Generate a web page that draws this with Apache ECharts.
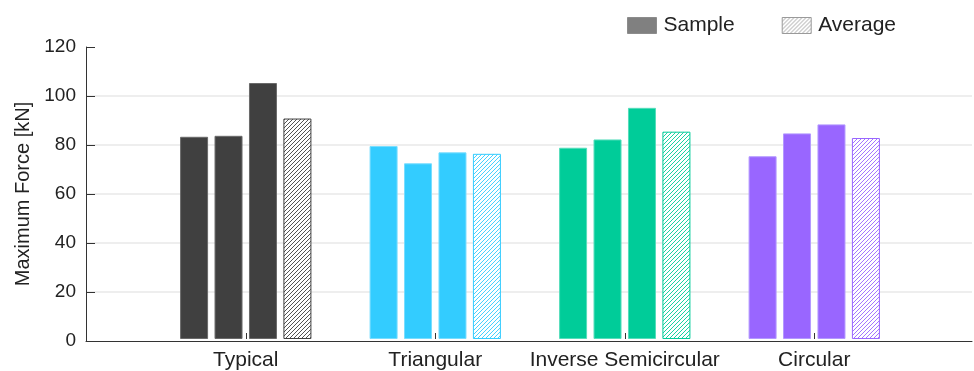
<!DOCTYPE html>
<html>
<head>
<meta charset="utf-8">
<script src="https://cdn.jsdelivr.net/npm/echarts@6/dist/echarts.min.js"></script>
<style>
  html, body { margin: 0; padding: 0; background: #fff; }
  #chart { width: 974px; height: 371px; }
</style>
</head>
<body>
<div id="chart"></div>
<script>
// data
const categories = ['Typical', 'Triangular', 'Inverse Semicircular', 'Circular']
const sample1 = [83.1, 79.3, 78.6, 75.1]
const sample2 = [83.5, 72.2, 82.0, 84.5]
const sample3 = [105.2, 76.7, 95.0, 88.2]
const average = [90.6, 76.1, 85.2, 82.6]
const yTicks = [0, 20, 40, 60, 80, 100, 120]

const groupColors = ['#404040', '#33ccff', '#00cc99', '#9966ff']
const edgeColors = ['#6a6a6a', '#77ddff', '#55ddbb', '#b399ff']
const FONT = 'Liberation Sans'

// diagonal hatch used for the average bars
function hatch(color) {
  const c = document.createElement('canvas')
  c.width = 4
  c.height = 4
  const ctx = c.getContext('2d')
  ctx.fillStyle = '#fff'
  ctx.fillRect(0, 0, 4, 4)
  ctx.strokeStyle = color
  ctx.lineWidth = 0.9
  ctx.beginPath()
  ctx.moveTo(-1, 5); ctx.lineTo(5, -1)
  ctx.moveTo(-1, 1); ctx.lineTo(1, -1)
  ctx.moveTo(3, 5); ctx.lineTo(5, 3)
  ctx.stroke()
  return { image: c, repeat: 'repeat' }
}

function sampleSeries(values) {
  return {
    type: 'bar',
    name: 'Sample',
    xAxisIndex: 1,
    yAxisIndex: 1,
    barWidth: 28,
    barGap: '23%',
    data: values.map((v, i) => ({
      value: v,
      itemStyle: { color: groupColors[i], borderColor: edgeColors[i], borderWidth: 1 },
    })),
  }
}

const chart = echarts.init(document.getElementById('chart'))
const option = {
  animation: false,
  backgroundColor: '#fff',
  textStyle: { fontFamily: FONT },
  legend: {
    left: 627,
    top: 15,
    padding: 0,
    itemWidth: 29,
    itemHeight: 16,
    itemGap: 47,
    selectedMode: false,
    textStyle: { fontSize: 21, color: '#222', fontFamily: FONT, padding: [0, 0, 0, 2] },
    data: [
      { name: 'Sample', icon: 'rect', itemStyle: { color: '#808080', borderColor: '#8c8c8c', borderWidth: 1 } },
      { name: 'Average', icon: 'rect', itemStyle: { color: hatch('#9a9a9a'), borderColor: '#9a9a9a', borderWidth: 1 } },
    ],
  },
  grid: [
    { left: 86, right: 2, top: 47, bottom: 30 },
    { left: 151, right: 65, top: 47, bottom: 30 },
  ],
  xAxis: [
    {
      gridIndex: 0,
      type: 'value',
      min: 0,
      max: 1,
      axisLine: { show: true, lineStyle: { color: '#333', width: 1 } },
      axisTick: { show: false },
      axisLabel: { show: false },
      splitLine: { show: false },
    },
    {
      gridIndex: 1,
      type: 'category',
      data: categories,
      axisLine: { show: false },
      axisTick: { show: true, inside: true, alignWithLabel: true, length: 6, lineStyle: { color: '#333' } },
      axisLabel: { interval: 0, fontSize: 21, color: '#222', margin: 11, fontFamily: FONT },
    },
  ],
  yAxis: [
    {
      gridIndex: 0,
      type: 'value',
      min: yTicks[0],
      max: yTicks[yTicks.length - 1],
      interval: 20,
      name: 'Maximum Force [kN]',
      nameLocation: 'middle',
      nameGap: 52,
      nameTextStyle: { fontSize: 20, color: '#222', fontFamily: FONT },
      axisLine: { show: true, lineStyle: { color: '#333', width: 1 } },
      axisTick: { show: true, inside: true, length: 9, lineStyle: { color: '#333' } },
      axisLabel: { fontSize: 19, color: '#222', margin: 10, fontFamily: FONT },
      splitLine: { show: true, showMinLine: false, showMaxLine: false, lineStyle: { color: '#e8e8e8', width: 1.5 } },
    },
    {
      gridIndex: 1,
      type: 'value',
      min: yTicks[0],
      max: yTicks[yTicks.length - 1],
      show: false,
      splitLine: { show: false },
    },
  ],
  series: [
    sampleSeries(sample1),
    sampleSeries(sample2),
    sampleSeries(sample3),
    {
      type: 'bar',
      name: 'Average',
      xAxisIndex: 1,
      yAxisIndex: 1,
      barWidth: 28,
      barGap: '23%',
      data: average.map((v, i) => ({
        value: v,
        itemStyle: { color: hatch(groupColors[i]), borderColor: groupColors[i], borderWidth: 1 },
      })),
    },
  ],
}
chart.setOption(option)
</script>
</body>
</html>
